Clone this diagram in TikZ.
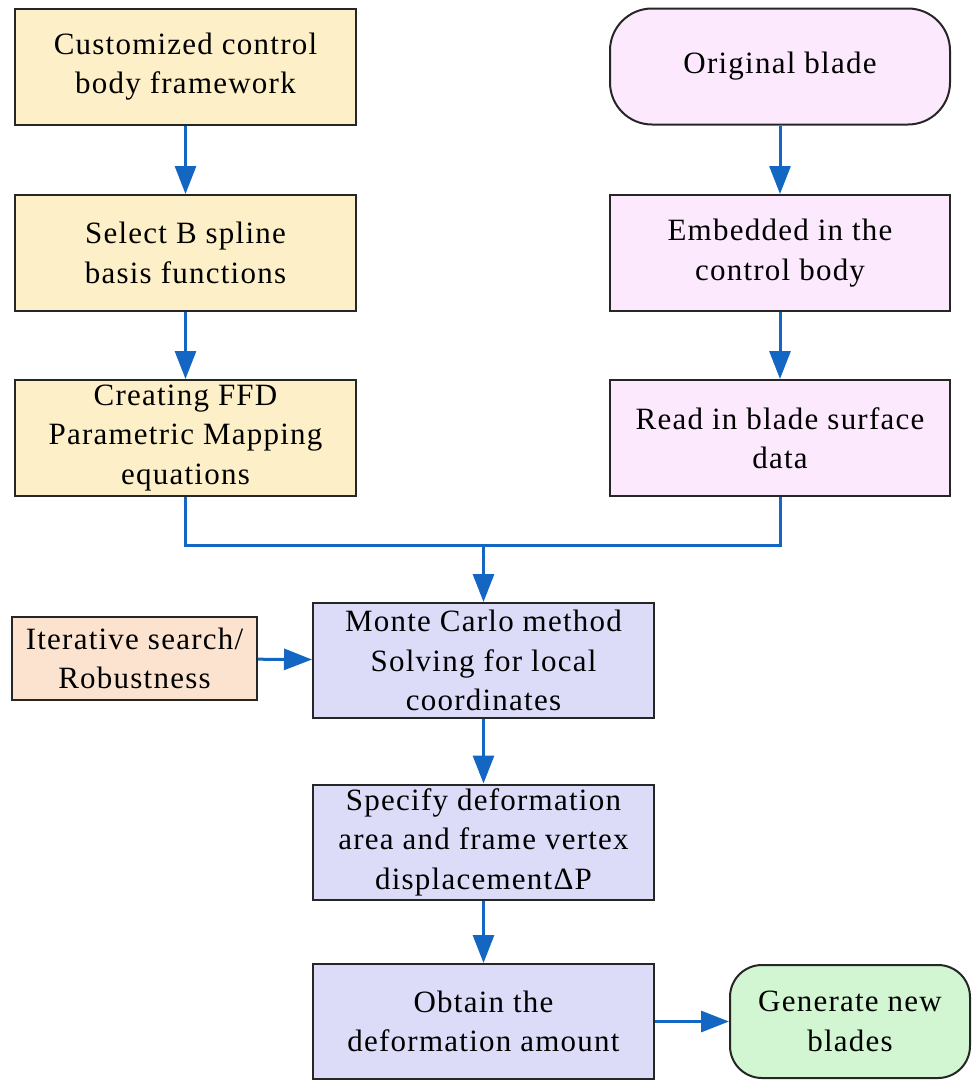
\documentclass[tikz,border=0pt]{standalone}
\usepackage{fontspec}
\setmainfont{Liberation Serif}[LetterSpace=4]
\usetikzlibrary{arrows.meta}
\definecolor{yelfill}{HTML}{FDF0C8}
\definecolor{pinkfill}{HTML}{FDE9FD}
\definecolor{lavfill}{HTML}{DCDCF8}
\definecolor{peachfill}{HTML}{FBE3D0}
\definecolor{greenfill}{HTML}{D2F5D2}
\definecolor{flowblue}{HTML}{1466C3}
\tikzset{
  box/.style={draw=black!85, line width=2pt, align=center, inner sep=0pt,
    font=\fontsize{31}{39.5}\selectfont, text=black},
  yelbox/.style={box, fill=yelfill, minimum width=341pt, minimum height=116pt},
  pinkbox/.style={box, fill=pinkfill, minimum width=340pt, minimum height=116pt},
  lavbox/.style={box, fill=lavfill, minimum width=341pt, minimum height=115pt},
  flow/.style={draw=flowblue, line width=3pt,
    -{Triangle[length=28pt,width=21pt]}},
  link/.style={draw=flowblue, line width=3pt}
}
\begin{document}
\begin{tikzpicture}[x=1pt,y=-1pt]
\useasboundingbox (0,0) rectangle (975,1080);
% left column
\node[yelbox] (cust) at (185.5,66.5) {Customized control\\body framework};
\node[yelbox] (bspl) at (185.5,253) {Select B spline\\basis functions};
\node[yelbox] (ffd) at (185.5,438) {Creating FFD\\Parametric Mapping\\equations};
% right column
\node[pinkbox, rounded corners=42pt] (orig) at (780,66.5) {Original blade};
\node[pinkbox] (embd) at (780,253) {Embedded in the\\control body};
\node[pinkbox] (read) at (780,438) {Read in blade surface\\data};
% centre column
\node[lavbox] (mc) at (483.5,660.5) {Monte Carlo method\\Solving for local\\coordinates};
\node[box, fill=peachfill, minimum width=245pt, minimum height=83pt] (iter) at (134.5,658.5) {Iterative search/\\Robustness};
\node[lavbox] (spec) at (483.5,842) {Specify deformation\\area and frame vertex\\displacementΔP};
\node[lavbox] (obt) at (483.5,1021.5) {Obtain the\\deformation amount};
\node[box, fill=greenfill, rounded corners=32pt, minimum width=240pt, minimum height=113pt] (gen) at (850,1021.5) {Generate new\\blades};
% connectors
\coordinate (merge) at (483.5,545);
\draw[flow] (cust) -- (bspl);
\draw[flow] (bspl) -- (ffd);
\draw[flow] (orig) -- (embd);
\draw[flow] (embd) -- (read);
\draw[link] (ffd.south) |- (merge);
\draw[link] (read.south) |- (merge);
\draw[flow] (merge) -- (mc.north);
\draw[flow] (iter) -- (mc);
\draw[flow] (mc) -- (spec);
\draw[flow] (spec) -- (obt);
\draw[flow] (obt) -- (gen);
\end{tikzpicture}
\end{document}
